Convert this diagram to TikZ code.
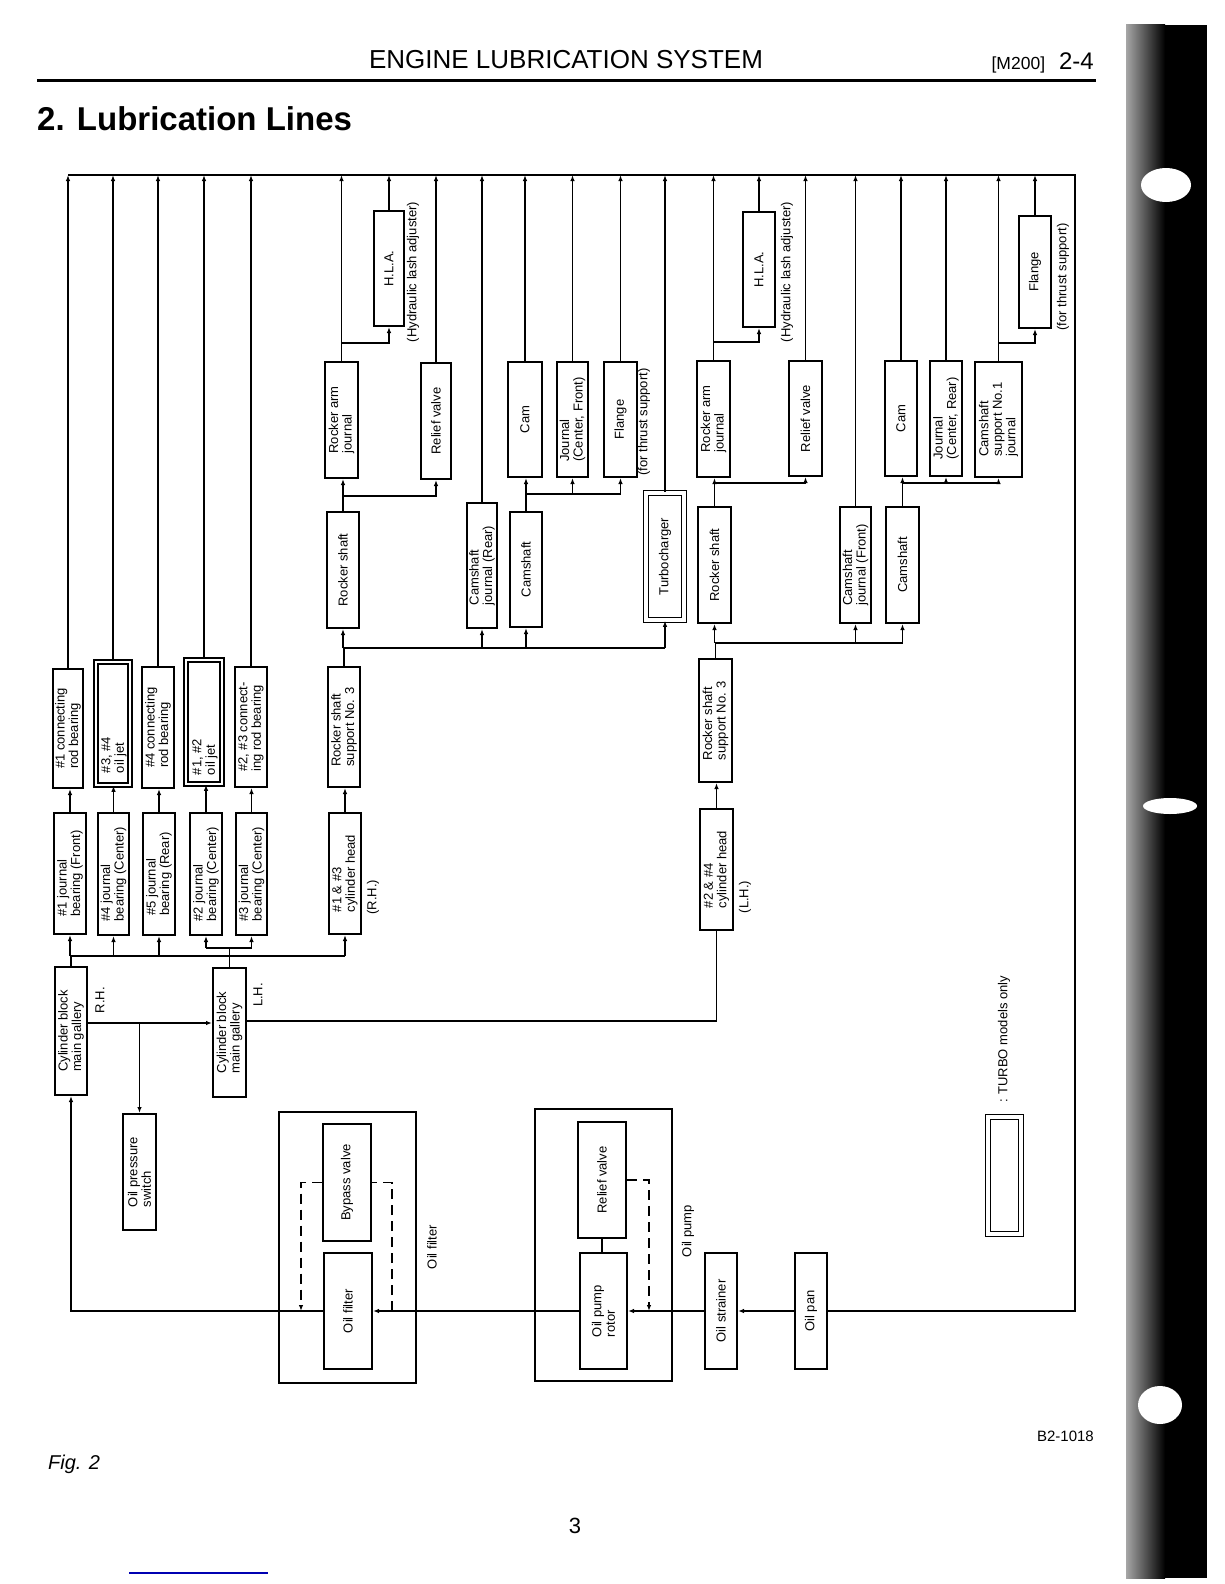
\documentclass[tikz,border=0pt]{standalone}
\usepackage{fontspec}
\setmainfont{Liberation Sans}
\usetikzlibrary{arrows.meta,calc}
\newcommand\bx[7][]{%
  \node[bx,#1,minimum width={#4pt-#3pt},minimum height={#6pt-#5pt}] (#2) at ({(#3+#4)/2},{(#5+#6)/2}) {};
  \node[txt,rotate=90] at (#2.center) {#7};}
\begin{document}
\begin{tikzpicture}[x=1pt,y=-1pt,
  bx/.style={draw,line width=2pt,inner sep=0pt,rectangle},
  dbx/.style={draw,line width=1.6pt,double,double distance=2.6pt,inner sep=0pt,rectangle},
  txt/.style={font=\fontsize{13}{13.5}\selectfont,align=left,inner sep=0pt},
  lbl/.style={font=\fontsize{13}{13.5}\selectfont,inner sep=0pt,rotate=90},
  ln/.style={line width=1.6pt},
  ar/.style={line width=1.6pt,-{Latex[length=6pt,width=4.5pt]}},
  dsh/.style={line width=1.6pt,dash pattern=on 10pt off 6pt}]
\useasboundingbox (0,0) rectangle (1224,1584);
\fill[white] (0,0) rectangle (1224,1584);

% binding strip (scan)
\shade[left color=black!35,right color=black] (1126,25) rectangle (1165,1578);
\fill[black] (1165,25) rectangle (1207,1578);
\fill[white] (1166,185) ellipse [x radius=25pt,y radius=17pt];
\fill[white] (1170,806) ellipse [x radius=27pt,y radius=8pt];
\fill[white] (1160,1405) ellipse [x radius=22pt,y radius=19pt];

% header
\node[font=\fontsize{26}{26}\selectfont,anchor=base] (hdr) at (566,69) {ENGINE LUBRICATION SYSTEM};
\node[anchor=base east,inner sep=0pt] (pg) at (1094,70) {\fontsize{17.5}{17.5}\selectfont [M200]\hspace{14pt}\fontsize{24}{24}\selectfont 2-4};
\draw[line width=3pt] (37,81) -- (1096,81);
\node[font=\fontsize{33}{33}\selectfont\bfseries,anchor=base west,inner sep=0pt] (ttl) at (37,131) {2. Lubrication Lines};

% ---------- boxes ----------
% connecting rods / oil jets
\bx{CR1}{53}{83}{669}{788}{\#1 connecting\\rod bearing}
\node[dbx,minimum width=34pt,minimum height=123pt] (OJ34) at (113,723.5) {};
\node[txt,rotate=90] at (114,755) {\#3, \#4\\oil jet};
\bx{CR4}{142}{174}{667}{788}{\#4 connecting\\rod bearing}
\node[dbx,minimum width=36pt,minimum height=124pt] (OJ12) at (204,722) {};
\node[txt,rotate=90] at (205,757) {\#1, \#2\\oil jet};
\bx{CR23}{235}{267}{667}{787}{\#2, \#3 connect-\\ing rod bearing}
\bx{RSSR}{328}{360}{667}{787}{Rocker shaft\\support No. 3}
\bx{RSSL}{699}{732}{659}{782}{Rocker shaft\\support No. 3}
% journals / heads
\bx{J1}{54}{86}{813}{934}{\#1 journal\\bearing (Front)}
\bx{J4}{98}{129}{813}{935}{\#4 journal\\bearing (Center)}
\bx{J5}{143}{175}{813}{935}{\#5 journal\\bearing (Rear)}
\bx{J2}{190}{222}{813}{935}{\#2 journal\\bearing (Center)}
\bx{J3}{236}{267}{813}{935}{\#3 journal\\bearing (Center)}
\bx{CHR}{329}{361}{813}{934}{\#1 \& \#3\\cylinder head}
\bx{CHL}{700}{733}{809}{930}{\#2 \& \#4\\cylinder head}
% shafts
\bx{RSR}{327}{359}{512}{628}{Rocker shaft}
\bx{CJR}{467}{497}{503}{628}{Camshaft\\journal (Rear)}
\bx{CSR}{510}{542}{512}{627}{Camshaft}
\node[dbx,double distance=3.2pt,minimum width=38pt,minimum height=127pt] (TURBO) at (665,556.5) {};
\node[txt,rotate=90] at (665,556.5) {Turbocharger};
\bx{RSL}{698}{731}{507}{623}{Rocker shaft}
\bx{CJF}{840}{871}{507}{623}{Camshaft\\journal (Front)}
\bx{CSL}{886}{919}{507}{623}{Camshaft}
% upper row
\bx{RAJR}{325}{358}{362}{478}{Rocker arm\\journal}
\bx{RVR}{421}{451}{363}{479}{Relief valve}
\bx{CAMR}{508}{542}{362}{477}{Cam}
\bx{JCF}{557}{588}{362}{477}{Journal\\(Center, Front)}
\bx{FLR}{604}{637}{362}{477}{Flange}
\bx{RAJL}{697}{730}{361}{477}{Rocker arm\\journal}
\bx{RVL}{789}{822}{361}{476}{Relief valve}
\bx{CAML}{885}{917}{361}{476}{Cam}
\bx{JCR}{930}{962}{361}{476}{Journal\\(Center, Rear)}
\bx{CSN}{975}{1022}{362}{477}{Camshaft\\support No.1\\journal}
\bx{HLAR}{374}{404}{211}{326}{H.L.A.}
\bx{HLAL}{743}{775}{212}{327}{H.L.A.}
\bx{FLL}{1019}{1051}{216}{328}{Flange}
% galleries
\bx{GR}{55}{87}{967}{1095}{Cylinder block\\main gallery}
\bx{GL}{213}{246}{968}{1097}{Cylinder block\\main gallery}
\bx{OPS}{123}{156}{1114}{1230}{Oil pressure\\switch}
% bottom
\node[draw,line width=1.8pt,minimum width=137pt,minimum height=271pt,inner sep=0pt] (OFbox) at (347.5,1247.5) {};
\node[draw,line width=1.8pt,minimum width=137pt,minimum height=272pt,inner sep=0pt] (OPbox) at (603.5,1245) {};
\bx{BYP}{323}{371}{1124}{1241}{Bypass valve}
\bx{OF}{324}{372}{1253}{1369}{Oil filter}
\bx{RVP}{578}{626}{1122}{1238}{Relief valve}
\bx{OPR}{580}{627}{1253}{1369}{Oil pump\\rotor}
\bx{OS}{705}{737}{1253}{1369}{Oil strainer}
\bx{OP}{795}{827}{1253}{1369}{Oil pan}
% legend
\node[dbx,double distance=3.2pt,minimum width=33pt,minimum height=117pt] (LEG) at (1004.5,1175.5) {};
\node[lbl,anchor=west] (legt) at (1004,1103) {: TURBO models only};

% labels
\node[lbl] (hlaR) at (413,272) {(Hydraulic lash adjuster)};
\node[lbl] (hlaL) at (787,272) {(Hydraulic lash adjuster)};
\node[lbl] (ftsR) at (644,422) {(for thrust support)};
\node[lbl] (ftsL) at (1063,277) {(for thrust support)};
\node[lbl] (rhA) at (100,1000) {R.H.};
\node[lbl] (lhA) at (258,995) {L.H.};
\node[lbl] (rhB) at (373,897) {(R.H.)};
\node[lbl] (lhB) at (745,897) {(L.H.)};
\node[lbl] (ofl) at (432,1247) {Oil filter};
\node[lbl] (opl) at (688,1231) {Oil pump};

% footer
\node[font=\fontsize{20}{20}\selectfont\itshape,anchor=base west,inner sep=0pt] (fig) at (48,1469) {Fig. 2};
\node[font=\fontsize{15}{15}\selectfont,anchor=base east,inner sep=0pt] (code) at (1094,1441) {B2-1018};
\node[font=\fontsize{22}{22}\selectfont,anchor=base,inner sep=0pt] (pno) at (575,1533) {3};
\draw[blue!70!black,line width=1.5pt] (129,1573) -- (268,1573);

% ---------- row coordinates ----------
\coordinate (busL) at (CR1.north |- 0,175);
\coordinate (busR) at (1075,175);
\coordinate (rJ) at (0,956);
\coordinate (rJ2) at (0,948);
\coordinate (rCR) at (0,648);
\coordinate (rCL) at (0,643);
\coordinate (rRR) at (0,496);
\coordinate (rCamR) at (0,494);
\coordinate (rL) at (0,483);
\coordinate (rHR) at (0,343);
\coordinate (rHL) at (0,342);
\coordinate (rG) at (0,1023);
\coordinate (rG2) at (0,1021);
\coordinate (fR) at (392,1311);
\coordinate (fL) at (301,1311);
\coordinate (pR) at (649,1311);

% ---------- connectors ----------
% return bus
\draw[ln] (OP.east) -| (busR) -- (busL);
% galleries
\draw[ar] (OF.west) -| (GR.south);
\draw[ar] (GR.east |- rG) -- (GL.west |- rG);
\draw[ar] (OPS.north |- rG) -- (OPS.north);
\draw[ln] (GL.east |- rG2) -| (CHL.south);
\draw[ln] (GR.north) -- (GR.north |- rJ) -- (CHR.south |- rJ);
\draw[ar] (J1.south |- rJ) -- (J1.south);
\draw[ar] (J4.south |- rJ) -- (J4.south);
\draw[ar] (J5.south |- rJ) -- (J5.south);
\draw[ar] (CHR.south |- rJ) -- (CHR.south);
\draw[ln] (GL.north) -- (GL.north |- rJ2);
\draw[ln] (J2.south |- rJ2) -- (J3.south |- rJ2);
\draw[ar] (J2.south |- rJ2) -- (J2.south);
\draw[ar] (J3.south |- rJ2) -- (J3.south);
% journals to rods / jets
\draw[ar] (J1.north) -- (J1.north |- CR1.south);
\draw[ar] (J4.north) -- (J4.north |- OJ34.south);
\draw[ar] (J5.north) -- (J5.north |- CR4.south);
\draw[ar] (J2.north) -- (J2.north |- OJ12.south);
\draw[ar] (J3.north) -- (J3.north |- CR23.south);
\foreach \n in {CR1,OJ34,CR4,OJ12,CR23}
  \draw[ar] (\n.north) -- (\n.north |- busL);
% R.H. head
\draw[ar] (CHR.north) -- (CHR.north |- RSSR.south);
\draw[ln] (RSSR.north) -- (RSSR.north |- rCR) -- (TURBO.south |- rCR);
\draw[ar] (RSR.south |- rCR) -- (RSR.south);
\draw[ar] (CJR.south |- rCR) -- (CJR.south);
\draw[ar] (CSR.south |- rCR) -- (CSR.south);
\draw[ar] (TURBO.south |- rCR) -- (TURBO.south);
\draw[ar] (RSR.north) -- (RSR.north |- RAJR.south);
\draw[ar] (RSR.north |- rRR) -| (RVR.south);
\draw[ar] (RAJR.north |- rHR) -| (HLAR.south);
\draw[ar] (CSR.north) -- (CSR.north |- CAMR.south);
\draw[ln] (CSR.north |- rCamR) -- (FLR.south |- rCamR);
\draw[ar] (JCF.south |- rCamR) -- (JCF.south);
\draw[ar] (FLR.south |- rCamR) -- (FLR.south);
\foreach \n in {RAJR,HLAR,RVR,CJR,CAMR,JCF,FLR,TURBO}
  \draw[ar] (\n.north) -- (\n.north |- busL);
% L.H. head
\draw[ar] (CHL.north) -- (CHL.north |- RSSL.south);
\draw[ln] (RSSL.north) -- (RSSL.north |- rCL) -- (CSL.south |- rCL);
\draw[ar] (RSL.south |- rCL) -- (RSL.south);
\draw[ar] (CJF.south |- rCL) -- (CJF.south);
\draw[ar] (CSL.south |- rCL) -- (CSL.south);
\draw[ar] (RSL.north) -- (RSL.north |- RAJL.south);
\draw[ar] (RSL.north |- rL) -| (RVL.south);
\draw[ar] (RAJL.north |- rHL) -| (HLAL.south);
\draw[ar] (CSL.north) -- (CSL.north |- CAML.south);
\draw[ln] (CSL.north |- rL) -- (CSN.south |- rL);
\draw[ar] (JCR.south |- rL) -- (JCR.south);
\draw[ar] (CSN.south |- rL) -- (CSN.south);
\draw[ar] (CSN.north |- rHR) -| (FLL.south);
\foreach \n in {RAJL,HLAL,RVL,CJF,CAML,JCR,CSN,FLL}
  \draw[ar] (\n.north) -- (\n.north |- busL);
% oil filter / pump
\draw[ar] (OPR.west) -- (OF.east);
\draw[ar] (OS.west) -- (OPR.east);
\draw[ar] (OP.west) -- (OS.east);
\draw[ln] (RVP.south) -- (RVP.south |- OPR.north);
\draw[dsh] (fR) |- (BYP.east);
\draw[dsh,-{Latex[length=6pt,width=4.5pt]}] (BYP.west) -| (fL);
\draw[dsh,-{Latex[length=6pt,width=4.5pt]}] (RVP.east) -| (pR);
\end{tikzpicture}
\end{document}
